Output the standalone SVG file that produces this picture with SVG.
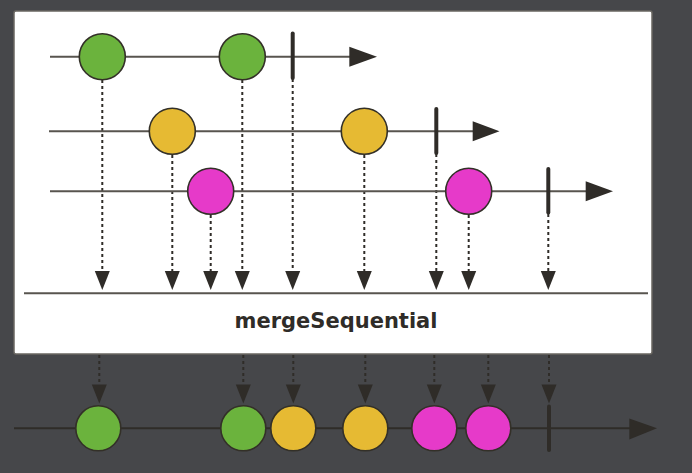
<svg xmlns="http://www.w3.org/2000/svg" width="692" height="473" viewBox="0 0 692 473">
<style>
.tl{stroke:#58554f;stroke-width:2;fill:none}
.bl{stroke:#2f2c28;stroke-width:2;fill:none}
.dash{stroke:#2f2c28;stroke-width:2;stroke-dasharray:3 3;fill:none}
.ah{fill:#2f2c28}
.term{stroke:#2f2c28;stroke-width:4;stroke-linecap:round}
.g{fill:#6bb33d;stroke:#333028;stroke-width:1.6}
.y{fill:#e6ba33;stroke:#333028;stroke-width:1.6}
.m{fill:#e63ac9;stroke:#333028;stroke-width:1.6}
.lbl{font-family:"DejaVu Sans",Verdana,sans-serif;font-weight:bold;font-size:21px;fill:#2f2c28}
</style>
<defs>
<path id="dh" d="M-7.5,-19 L7.5,-19 L0,0 Z"/>
</defs>
<rect width="692" height="473" fill="#46474a"/>
<g id="operator">
<rect x="14" y="11" width="638" height="343" rx="2" fill="#ffffff" stroke="#6a6761" stroke-width="1.5"/>
<line x1="24" y1="293.3" x2="648" y2="293.3" class="tl"/>
<text x="336" y="328.3" text-anchor="middle" class="lbl">mergeSequential</text>
</g>
<g id="connectors">
<line x1="102.3" y1="80" x2="102.3" y2="272" class="dash"/>
<line x1="172.3" y1="155" x2="172.3" y2="272" class="dash"/>
<line x1="210.7" y1="215" x2="210.7" y2="272" class="dash"/>
<line x1="242.3" y1="80" x2="242.3" y2="272" class="dash"/>
<line x1="292.7" y1="79" x2="292.7" y2="272" class="dash"/>
<line x1="364.3" y1="155" x2="364.3" y2="272" class="dash"/>
<line x1="436.3" y1="154" x2="436.3" y2="272" class="dash"/>
<line x1="468.7" y1="215" x2="468.7" y2="272" class="dash"/>
<line x1="548.3" y1="214" x2="548.3" y2="272" class="dash"/>
<use href="#dh" x="102.3" y="290" class="ah"/>
<use href="#dh" x="172.3" y="290" class="ah"/>
<use href="#dh" x="210.7" y="290" class="ah"/>
<use href="#dh" x="242.3" y="290" class="ah"/>
<use href="#dh" x="292.7" y="290" class="ah"/>
<use href="#dh" x="364.3" y="290" class="ah"/>
<use href="#dh" x="436.3" y="290" class="ah"/>
<use href="#dh" x="468.7" y="290" class="ah"/>
<use href="#dh" x="548.3" y="290" class="ah"/>
<line x1="99.3" y1="355" x2="99.3" y2="385" class="dash"/>
<line x1="243.3" y1="355" x2="243.3" y2="385" class="dash"/>
<line x1="293.3" y1="355" x2="293.3" y2="385" class="dash"/>
<line x1="365.3" y1="355" x2="365.3" y2="385" class="dash"/>
<line x1="434.3" y1="355" x2="434.3" y2="385" class="dash"/>
<line x1="488.3" y1="355" x2="488.3" y2="385" class="dash"/>
<line x1="549" y1="355" x2="549" y2="385" class="dash"/>
<use href="#dh" x="99.3" y="403.5" class="ah"/>
<use href="#dh" x="243.3" y="403.5" class="ah"/>
<use href="#dh" x="293.3" y="403.5" class="ah"/>
<use href="#dh" x="365.3" y="403.5" class="ah"/>
<use href="#dh" x="434.3" y="403.5" class="ah"/>
<use href="#dh" x="488.3" y="403.5" class="ah"/>
<use href="#dh" x="549" y="403.5" class="ah"/>
</g>
<g id="source1">
<line x1="50" y1="56.7" x2="352" y2="56.7" class="tl"/>
<path d="M349.3,46.7 L377,56.7 L349.3,66.7 Z" class="ah"/>
<circle cx="102.3" cy="56.7" r="23" class="g"/>
<circle cx="242.3" cy="56.7" r="23" class="g"/>
<line x1="292.7" y1="33.5" x2="292.7" y2="78" class="term"/>
</g>
<g id="source2">
<line x1="49" y1="131.3" x2="475" y2="131.3" class="tl"/>
<path d="M472.7,121.3 L499.5,131.3 L472.7,141.3 Z" class="ah"/>
<circle cx="172.3" cy="131.3" r="23" class="y"/>
<circle cx="364.3" cy="131.3" r="23" class="y"/>
<line x1="436.3" y1="109" x2="436.3" y2="153" class="term"/>
</g>
<g id="source3">
<line x1="50" y1="191.3" x2="588" y2="191.3" class="tl"/>
<path d="M585.7,181.3 L613,191.3 L585.7,201.3 Z" class="ah"/>
<circle cx="210.7" cy="191.3" r="23" class="m"/>
<circle cx="468.7" cy="191.3" r="23" class="m"/>
<line x1="548.3" y1="169" x2="548.3" y2="212.5" class="term"/>
</g>
<g id="result">
<line x1="14" y1="428.3" x2="632" y2="428.3" class="bl"/>
<path d="M629.3,418.5 L657,428.3 L629.3,439.5 Z" class="ah"/>
<circle cx="98.3" cy="428.3" r="22.5" class="g"/>
<circle cx="243.3" cy="428.3" r="22.5" class="g"/>
<circle cx="293.3" cy="428.3" r="22.5" class="y"/>
<circle cx="365.3" cy="428.3" r="22.5" class="y"/>
<circle cx="434.3" cy="428.3" r="22.5" class="m"/>
<circle cx="488.3" cy="428.3" r="22.5" class="m"/>
<line x1="549" y1="406.5" x2="549" y2="450" class="term"/>
</g>
</svg>
